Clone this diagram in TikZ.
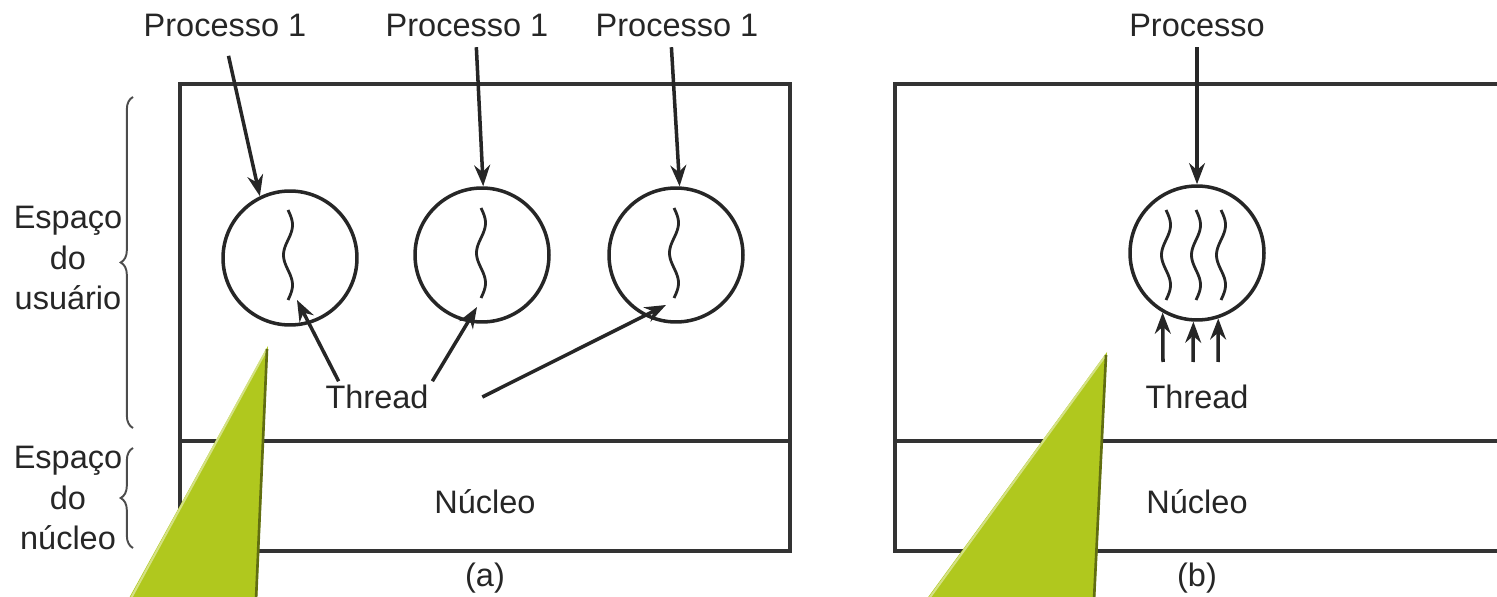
\documentclass[tikz,border=0pt]{standalone}
\usepackage{fontspec}
\setmainfont{Liberation Sans}
\usetikzlibrary{positioning,arrows.meta,decorations.pathreplacing}
\definecolor{leaf}{RGB}{176,200,30}
\tikzset{
  box/.style={line width=2.2pt, draw=black!80},
  proc/.style={circle, draw=black!85, line width=2pt, minimum size=2.68cm, inner sep=0pt},
  arr/.style={-{Stealth[length=12pt,width=9pt]}, line width=2pt, draw=black!85},
  thr/.style={line width=1.6pt, draw=black!85},
  lbl/.style={font=\fontsize{18.5}{22.8}\selectfont, text=black!85, inner sep=2pt},
  side/.style={lbl, align=center},
  brc/.style={decorate, decoration={brace, amplitude=7pt}, draw=black!70, line width=1.1pt}
}
\newcommand{\wavy}[2]{\draw[thr] plot[domain=0:90, samples=50, smooth] ({#1+4.5*sin(6*\x)}, {#2+\x});}

\begin{document}
\begin{tikzpicture}[x=0.02cm, y=-0.02cm]
\useasboundingbox (0,0) rectangle (1497,597);
\clip (0,0) rectangle (1497,597);

% (a) three processes, one thread each
\draw[box] (180,84) rectangle (790,551);
\draw[box] (180,441) -- (790,441);
% (b) one process, three threads
\draw[box] (895,84) rectangle (1530,551);
\draw[box] (895,441) -- (1530,441);

\node[proc] (p1) at (290,258) {};
\node[proc] (p2) at (482,255) {};
\node[proc] (p3) at (676,255) {};
\node[proc] (pb) at (1197,253) {};

\wavy{288}{210}
\wavy{481}{208}
\wavy{674}{208}
\wavy{1166}{210}
\wavy{1196}{210}
\wavy{1221}{210}

\node[lbl] (l1) at (225,25) {Processo 1};
\node[lbl] (l2) at (467,25) {Processo 1};
\node[lbl] (l3) at (677,25) {Processo 1};
\node[lbl] (lb) at (1197,25) {Processo};
\node[lbl] (th) at (377,397) {Thread};
\node[lbl] (thb) at (1197,397) {Thread};
\node[lbl] (k1) at (485,502) {Núcleo};
\node[lbl] (k2) at (1197,502) {Núcleo};
\node[lbl] (ca) at (485,578) {(a)};
\node[lbl] (cb) at (1197,578) {(b)};
\node[side] (us) at (68,258) {Espaço\\do\\usuário};
\node[side] (ks) at (68,498) {Espaço\\do\\núcleo};

\draw[brc] (133,428) -- (133,97);
\draw[brc] (133,548) -- (133,448);

\draw[arr, shorten <=0.32cm] (l1.south) -- (p1.116);
\draw[arr, shorten <=4pt] ([xshift=0.18cm]l2.south) -- (p2.89);
\draw[arr, shorten <=4pt] ([xshift=-0.12cm]l3.south) -- (p3.87);
\draw[arr, shorten <=4pt] (lb.south) -- (pb.north);

\draw[arr] ([xshift=0.34cm]th.north west) -- ([shift={(7,42)}]p1.center);
\draw[arr] (th.north east) -- ([shift={(-5,52)}]p2.center);
\draw[arr] ([xshift=1cm]th.east) -- ([shift={(-10,50)}]p3.center);

\coordinate (u1) at (1163,362);
\coordinate (u2) at (1193,362);
\coordinate (u3) at (1218,362);
\draw[arr] (u1) -- (pb.240);
\draw[arr] (u2) -- (pb.267);
\draw[arr] (u3) -- (pb.288);

% green callout wedges
\fill[leaf] (268,346) -- (257,600) -- (128,600) -- cycle;
\draw[leaf!55!white, line width=1.2pt] (130,600) -- (267,349);
\draw[leaf!55!black, line width=1.5pt] (267,349) -- (256,600);
\fill[leaf] (1107,352) -- (1095,600) -- (926,600) -- cycle;
\draw[leaf!55!white, line width=1.2pt] (928,600) -- (1106,355);
\draw[leaf!55!black, line width=1.5pt] (1106,355) -- (1094,600);
\end{tikzpicture}
\end{document}
